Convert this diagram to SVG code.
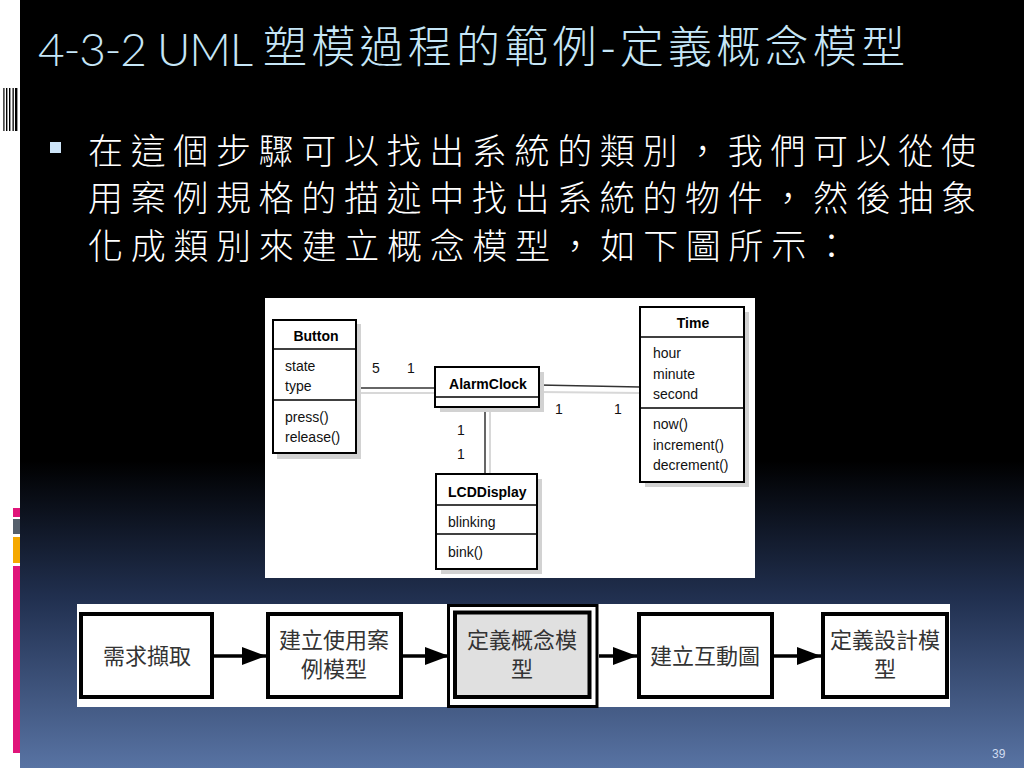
<svg xmlns="http://www.w3.org/2000/svg" width="1024" height="768" viewBox="0 0 1024 768">
<defs>
<linearGradient id="bg" x1="0" y1="0" x2="0" y2="1">
<stop offset="0" stop-color="#000000"/>
<stop offset="0.6" stop-color="#000000"/>
<stop offset="0.78" stop-color="#213050"/>
<stop offset="1" stop-color="#5873a3"/>
</linearGradient>
<marker id="ah" markerWidth="24" markerHeight="18" refX="24" refY="9" orient="auto" markerUnits="userSpaceOnUse">
<path d="M0,0 L24,9 L0,18 z" fill="#000"/>
</marker>
<style>
.title{font-family:"Noto Sans CJK TC","Noto Sans CJK SC",sans-serif;fill:#c6e6f7;font-weight:300}
.titlelat{font-family:Lato,"Open Sans",sans-serif;fill:#c6e6f7;font-weight:300}
.body{font-family:"Noto Sans CJK TC","Noto Sans CJK SC",sans-serif;fill:#ffffff;font-size:35px;font-weight:300}
.cls{fill:#fff;stroke:#000;stroke-width:2}
.shadow{fill:#d2d2d2}
.div{stroke:#000;stroke-width:1.5}
.nm{font-family:"Liberation Sans",Arial,sans-serif;font-size:14px;font-weight:bold;fill:#000}
.at{font-family:"Liberation Sans",Arial,sans-serif;font-size:14px;fill:#111}
.assoc{stroke:#333;stroke-width:1.5;fill:none}
.ashadow{stroke:#d8d8d8;stroke-width:2;fill:none}
.step{fill:#fff;stroke:#000;stroke-width:4}
.stxt{font-family:"Noto Sans CJK TC","Noto Sans CJK SC",sans-serif;font-size:22px;fill:#333;text-anchor:middle}
.flow{stroke:#000;stroke-width:3.5;fill:none;marker-end:url(#ah)}
</style>
</defs>

<!-- background -->
<rect x="0" y="0" width="1024" height="768" fill="#ffffff"/>
<rect x="20" y="0" width="1004" height="768" fill="url(#bg)"/>

<!-- barcode decoration -->
<g fill="#000">
<rect x="3.3" y="88" width="1.2" height="43"/>
<rect x="6" y="88" width="1.4" height="43"/>
<rect x="9" y="88" width="1.4" height="43"/>
<rect x="12.5" y="88" width="1.3" height="43"/>
<rect x="15" y="88" width="2.4" height="43"/>
</g>

<!-- left colour bars -->
<rect x="13" y="508" width="7" height="9" fill="#e0157a"/>
<rect x="13" y="519" width="7" height="15" fill="#56606c"/>
<rect x="13" y="537" width="7" height="26" fill="#f5a800"/>
<rect x="13" y="566" width="7" height="187" fill="#e0157a"/>

<!-- title -->
<text class="titlelat" x="38" y="66" font-size="46" textLength="215" lengthAdjust="spacing">4-3-2 UML</text>
<text class="title" x="263" y="63" font-size="44" textLength="642" lengthAdjust="spacing">塑模過程的範例-定義概念模型</text>

<!-- bullet -->
<rect x="50" y="142" width="11" height="11" fill="#cde4f8"/>
<text class="body" x="88" y="164" textLength="888" lengthAdjust="spacing">在這個步驟可以找出系統的類別，我們可以從使</text>
<text class="body" x="88" y="211" textLength="888" lengthAdjust="spacing">用案例規格的描述中找出系統的物件，然後抽象</text>
<text class="body" x="88" y="259" textLength="761" lengthAdjust="spacing">化成類別來建立概念模型，如下圖所示：</text>

<!-- UML class diagram panel -->
<rect x="265" y="298" width="490" height="280" fill="#ffffff"/>

<g id="uml-connectors">
<line class="ashadow" x1="357" y1="393" x2="440" y2="393"/>
<line class="ashadow" x1="540" y1="392" x2="640" y2="393"/>
<line class="ashadow" x1="490" y1="412" x2="490" y2="474"/>
<line class="assoc" x1="357" y1="388" x2="435" y2="388"/>
<line class="assoc" x1="539" y1="385" x2="640" y2="387"/>
<line class="assoc" x1="485" y1="407" x2="485" y2="474"/>
<text class="at" x="372" y="373">5</text>
<text class="at" x="407" y="373">1</text>
<text class="at" x="555" y="414">1</text>
<text class="at" x="614" y="414">1</text>
<text class="at" x="457" y="435">1</text>
<text class="at" x="457" y="459">1</text>
</g>

<g id="Button">
<rect class="shadow" x="277" y="324" width="84" height="135"/>
<rect class="cls" x="273" y="320" width="83" height="133"/>
<line class="div" x1="273" y1="349" x2="356" y2="349"/>
<line class="div" x1="273" y1="400" x2="356" y2="400"/>
<text class="nm" x="316" y="341" text-anchor="middle">Button</text>
<text class="at" x="285" y="371">state</text>
<text class="at" x="285" y="391">type</text>
<text class="at" x="285" y="422">press()</text>
<text class="at" x="285" y="442">release()</text>
</g>

<g id="AlarmClock">
<rect class="shadow" x="440" y="372" width="104" height="40"/>
<rect class="cls" x="435" y="367" width="104" height="40"/>
<line class="div" x1="435" y1="397" x2="539" y2="397"/>
<text class="nm" x="488" y="389" text-anchor="middle">AlarmClock</text>
</g>

<g id="Time">
<rect class="shadow" x="645" y="312" width="104" height="175"/>
<rect class="cls" x="640" y="307" width="104" height="175"/>
<line class="div" x1="640" y1="337" x2="744" y2="337"/>
<line class="div" x1="640" y1="408" x2="744" y2="408"/>
<text class="nm" x="693" y="328" text-anchor="middle">Time</text>
<text class="at" x="653" y="358">hour</text>
<text class="at" x="653" y="379">minute</text>
<text class="at" x="653" y="399">second</text>
<text class="at" x="653" y="429">now()</text>
<text class="at" x="653" y="450">increment()</text>
<text class="at" x="653" y="470">decrement()</text>
</g>

<g id="LCDDisplay">
<rect class="shadow" x="441" y="479" width="101" height="95"/>
<rect class="cls" x="436" y="474" width="101" height="95"/>
<line class="div" x1="436" y1="505" x2="537" y2="505"/>
<line class="div" x1="436" y1="534" x2="537" y2="534"/>
<text class="nm" x="448" y="497">LCDDisplay</text>
<text class="at" x="448" y="527">blinking</text>
<text class="at" x="448" y="557">bink()</text>
</g>

<!-- process flow panel -->
<rect x="77" y="604" width="873" height="103" fill="#ffffff"/>

<g id="flow-connectors">
<line class="flow" x1="214" y1="656" x2="266" y2="656"/>
<line class="flow" x1="403" y1="656" x2="449" y2="656"/>
<line class="flow" x1="599" y1="656" x2="637" y2="656"/>
<line class="flow" x1="774" y1="656" x2="821" y2="656"/>
</g>

<g id="step1">
<rect class="step" x="81" y="614" width="131" height="83"/>
<text class="stxt" x="147" y="664">需求擷取</text>
</g>

<g id="step2">
<rect class="step" x="268" y="614" width="133" height="83"/>
<text class="stxt" x="334" y="648">建立使用案</text>
<text class="stxt" x="334" y="677">例模型</text>
</g>

<g id="step3">
<rect x="448.5" y="605.5" width="148.5" height="101" fill="#fff" stroke="#000" stroke-width="3"/>
<rect x="455" y="612.5" width="134.5" height="84.5" fill="#e0e0e0" stroke="#000" stroke-width="4"/>
<text class="stxt" x="522" y="648">定義概念模</text>
<text class="stxt" x="522" y="677">型</text>
</g>

<g id="step4">
<rect class="step" x="639" y="614" width="133" height="83"/>
<text class="stxt" x="705" y="664">建立互動圖</text>
</g>

<g id="step5">
<rect class="step" x="823" y="614" width="124" height="83"/>
<text class="stxt" x="885" y="648">定義設計模</text>
<text class="stxt" x="885" y="677">型</text>
</g>

<!-- page number -->
<text x="992" y="758" font-family="Liberation Sans, Arial, sans-serif" font-size="12" fill="#d0dcf0">39</text>
</svg>
